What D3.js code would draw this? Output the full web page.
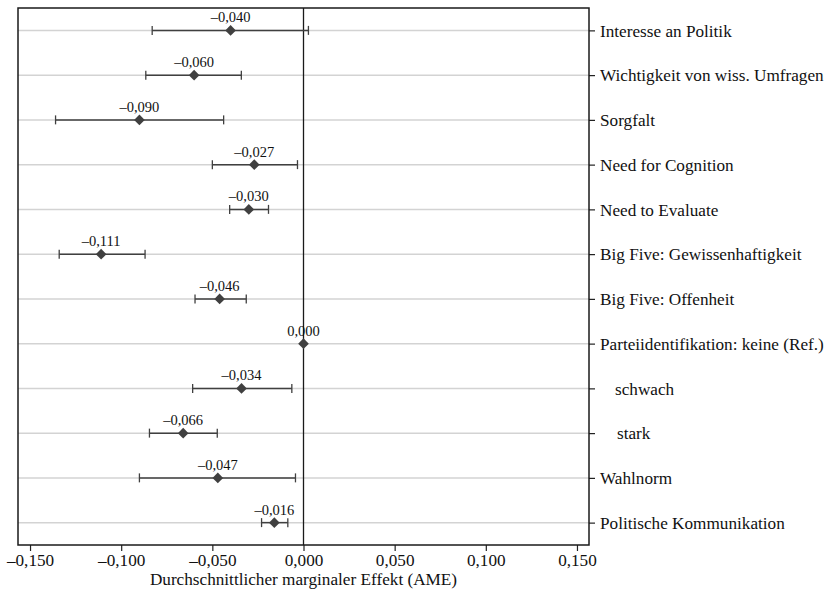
<!DOCTYPE html>
<html>
<head>
<meta charset="utf-8">
<script src="https://cdn.jsdelivr.net/npm/d3@7"></script>
<style>
  body { margin: 0; background: #fff; }
  svg text { font-family: "Liberation Serif", "Times New Roman", Times, serif; fill: #111; }
</style>
</head>
<body>
<svg class="chart"></svg>
<script>
// -------------------- Data --------------------
var labels = [
  "Interesse an Politik",
  "Wichtigkeit von wiss. Umfragen",
  "Sorgfalt",
  "Need for Cognition",
  "Need to Evaluate",
  "Big Five: Gewissenhaftigkeit",
  "Big Five: Offenheit",
  "Parteiidentifikation: keine (Ref.)",
  "schwach",
  "stark",
  "Wahlnorm",
  "Politische Kommunikation"
];
var indent = [0, 0, 0, 0, 0, 0, 0, 0, 15, 17, 0, 0];
var ame   = [-0.040, -0.060, -0.090, -0.027, -0.030, -0.111, -0.046, 0.000, -0.034, -0.066, -0.047, -0.016];
var lower = [-0.083, -0.0865, -0.136, -0.050, -0.0405, -0.134, -0.0595, 0.000, -0.0608, -0.0845, -0.090, -0.023];
var upper = [0.0027, -0.0341, -0.0438, -0.0033, -0.0192, -0.0869, -0.0314, 0.000, -0.0064, -0.0473, -0.0044, -0.0086];
var xTicks = [-0.15, -0.10, -0.05, 0, 0.05, 0.10, 0.15];

// -------------------- Settings --------------------
var margin = {top: 8, right: 242, bottom: 45, left: 18}
  , width = 831 - margin.left - margin.right
  , height = 590 - margin.top - margin.bottom;

var serif = "Liberation Serif";

var de = d3.formatLocale({decimal: ",", thousands: ".", grouping: [3], currency: ["", " €"], minus: "\u2013"});
var fmt = de.format(".3f");

var svg = d3.select(".chart")
  .attr("width", 831)
  .attr("height", 590);
var chart = svg.append("g")
  .attr("transform", "translate(" + margin.left + "," + margin.top + ")");

// -------------------- Scales --------------------
var x = d3.scaleLinear()
  .domain([-0.1566, 0.1566])
  .range([0, width]);

var y = d3.scalePoint()
  .domain(labels)
  .range([0, height])
  .padding(0.5);

var data = labels.map(function(l, i) {
  return {label: l, value: ame[i], lo: lower[i], hi: upper[i]};
});

// -------------------- Grid lines --------------------
chart.selectAll(".grid")
  .data(labels)
  .enter().append("line")
    .attr("x1", 0).attr("x2", width)
    .attr("y1", function(d) { return y(d); })
    .attr("y2", function(d) { return y(d); })
    .attr("stroke", "#d3d3d3")
    .attr("stroke-width", 1.5);

// zero reference line
chart.append("line")
  .attr("x1", x(0)).attr("x2", x(0))
  .attr("y1", 0).attr("y2", height)
  .attr("stroke", "#1a1a1a")
  .attr("stroke-width", 1.3);

// -------------------- Axes --------------------
var xAxis = d3.axisBottom(x)
  .tickValues(xTicks)
  .tickFormat(fmt)
  .tickSize(6)
  .tickPadding(3);
var gx = chart.append("g")
  .attr("transform", "translate(0," + height + ")")
  .call(xAxis)
  .attr("font-size", 17.2);
gx.select(".domain").remove();
gx.selectAll(".tick line").attr("stroke", "#222").attr("stroke-width", 1.2);
gx.selectAll(".tick text")
  .style("font-family", serif)
  .attr("fill", "#111");

var yAxis = d3.axisRight(y)
  .tickSize(6)
  .tickPadding(4);
var gy = chart.append("g")
  .attr("transform", "translate(" + width + ",0)")
  .call(yAxis)
  .attr("font-size", 17.2);
gy.select(".domain").remove();
gy.selectAll(".tick line").attr("stroke", "#222").attr("stroke-width", 1.2);
gy.selectAll(".tick text")
  .attr("x", function(d, i) { return 11 + indent[i]; })
  .attr("dy", "0.33em")
  .style("font-family", serif)
  .attr("fill", "#111");

// frame
chart.append("rect")
  .attr("x", 0).attr("y", 0)
  .attr("width", width).attr("height", height)
  .attr("fill", "none")
  .attr("stroke", "#1a1a1a")
  .attr("stroke-width", 1.5);

chart.append("text")
  .attr("x", x(0))
  .attr("y", height + 40)
  .style("font-family", serif)
  .attr("font-size", 17.2)
  .style("text-anchor", "middle")
  .text("Durchschnittlicher marginaler Effekt (AME)");

// -------------------- Error bars --------------------
var col = "#404040";
var bars = chart.selectAll(".ci")
  .data(data.filter(function(d) { return d.hi > d.lo; }))
  .enter().append("g");
bars.append("line")
  .attr("x1", function(d) { return x(d.lo); })
  .attr("x2", function(d) { return x(d.hi); })
  .attr("y1", function(d) { return y(d.label); })
  .attr("y2", function(d) { return y(d.label); })
  .attr("stroke", col).attr("stroke-width", 1.5);
bars.append("line")
  .attr("x1", function(d) { return x(d.lo); })
  .attr("x2", function(d) { return x(d.lo); })
  .attr("y1", function(d) { return y(d.label) - 4.5; })
  .attr("y2", function(d) { return y(d.label) + 4.5; })
  .attr("stroke", col).attr("stroke-width", 1.3);
bars.append("line")
  .attr("x1", function(d) { return x(d.hi); })
  .attr("x2", function(d) { return x(d.hi); })
  .attr("y1", function(d) { return y(d.label) - 4.5; })
  .attr("y2", function(d) { return y(d.label) + 4.5; })
  .attr("stroke", col).attr("stroke-width", 1.3);

// -------------------- Points --------------------
var diamond = d3.symbol().type(d3.symbolDiamond2).size(72);
chart.selectAll(".pt")
  .data(data)
  .enter().append("path")
    .attr("d", diamond)
    .attr("transform", function(d) { return "translate(" + x(d.value) + "," + y(d.label) + ")"; })
    .attr("fill", col);

chart.selectAll(".val")
  .data(data)
  .enter().append("text")
    .attr("x", function(d) { return x(d.value); })
    .attr("y", function(d) { return y(d.label) - 8; })
    .style("font-family", serif)
    .attr("font-size", 14.5)
    .style("text-anchor", "middle")
    .text(function(d) { return fmt(d.value); });
</script>
</body>
</html>
